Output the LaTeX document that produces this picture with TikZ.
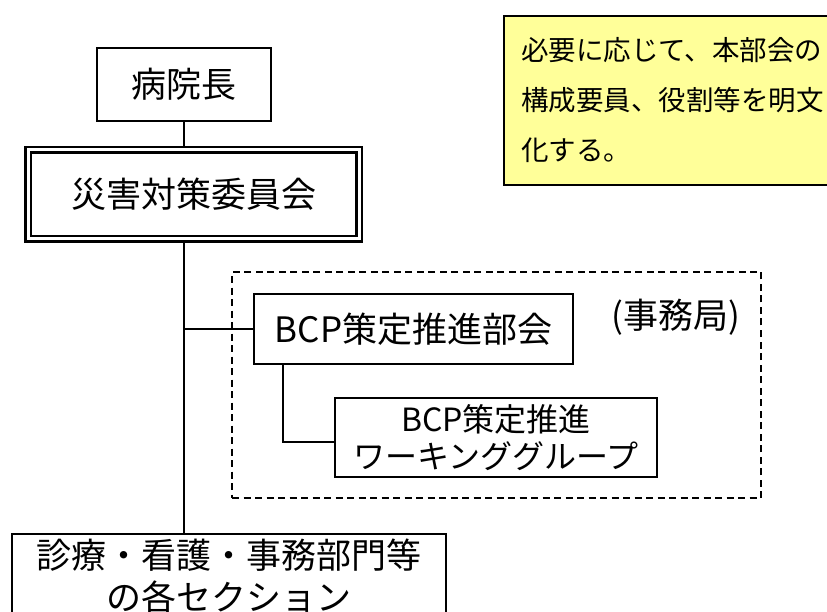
\documentclass[tikz,border=0pt]{standalone}
\usepackage{fontspec}
\setmainfont{Noto Sans CJK JP}
\definecolor{noteyellow}{HTML}{FFFF99}

\begin{document}
\begin{tikzpicture}[x=1pt,y=-1pt,line width=2.4pt,
  box/.style={draw,rectangle,inner sep=0pt,align=center},
  big/.style={font=\fontsize{35}{42}\selectfont},
  office/.style={draw,dashed,dash pattern=on 7pt off 4.5pt,inner sep=0pt},
  note/.style={draw,fill=noteyellow,anchor=north west,align=left,inner xsep=17pt,
    text width=310pt,minimum height=169pt,line width=2pt,font=\fontsize{27.5}{50}\selectfont}]
\useasboundingbox (0,0) rectangle (827,612);
\clip (0,0) rectangle (827,612);
\node[note] (memo) at (503,15) {必要に応じて、本部会の\\構成要員、役割等を明文\\化する。};
\node[box,big,minimum width=174pt,minimum height=73pt] (chief) at (184,84.5) {病院長};
\node[box,big,double,double distance=3pt,line width=2.5pt,outer sep=4pt,
  minimum width=331pt,minimum height=89pt] (comm) at (193.5,194.5) {災害対策委員会};
\node[office,minimum width=529pt,minimum height=226pt] (bureau) at (496.5,385) {};
\node[box,big,minimum width=319pt,minimum height=70pt] (bcp) at (413.5,329) {BCP策定推進部会};
\node[box,font=\fontsize{32}{37}\selectfont,minimum width=322pt,minimum height=79pt] (wg) at (496,437.5) {BCP策定推進\\ワーキンググループ};
\node[font=\fontsize{35}{40}\selectfont] (jimu) at (676,317) {(事務局)};
\node[box,big,minimum width=434pt,minimum height=84pt] (sect) at (229,576) {診療・看護・事務部門等\\の各セクション};
\path[draw]
(chief.south) -- (comm.north -| chief.south)
(comm.south -| chief.south) -- (sect.north -| chief.south)
(bcp.west) -- (bcp.west -| chief.south)
([xshift=30pt]bcp.south west) |- ([yshift=-4.5pt]wg.west);
\end{tikzpicture}
\end{document}
